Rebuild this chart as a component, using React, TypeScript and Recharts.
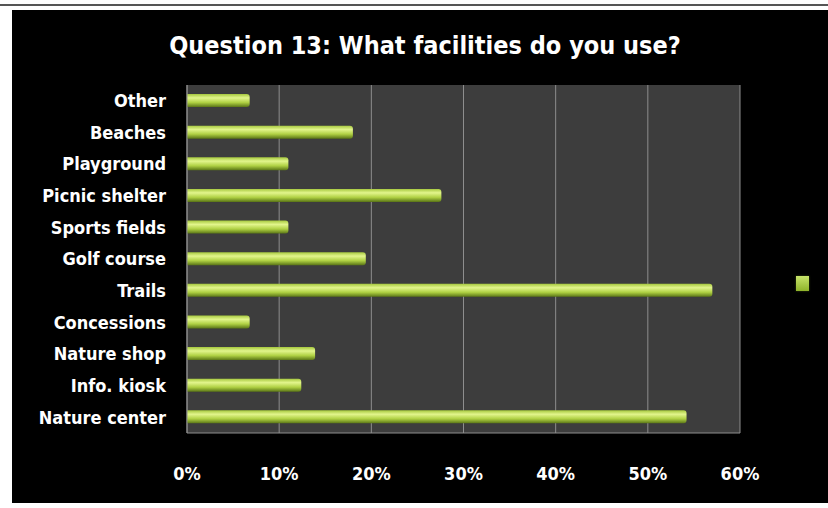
import * as React from "react";
import { Bar, BarChart, CartesianGrid, Legend, XAxis, YAxis } from "recharts";

const FACILITIES = [
  "Other",
  "Beaches",
  "Playground",
  "Picnic shelter",
  "Sports fields",
  "Golf course",
  "Trails",
  "Concessions",
  "Nature shop",
  "Info. kiosk",
  "Nature center",
];
const SHARE = [6.8, 18.0, 11.0, 27.6, 11.0, 19.4, 57.0, 6.8, 13.9, 12.4, 54.2];
const X_TICKS = [0, 10, 20, 30, 40, 50, 60];

const data = FACILITIES.map((name, i) => ({ name, share: SHARE[i] }));

const LABEL_FONT = "'DejaVu Sans Condensed', 'DejaVu Sans', sans-serif";

// Legend in the original has an empty series name, so only the swatch shows.
function LegendSwatch() {
  return (
    <div
      style={{
        width: 13,
        height: 15,
        background: "linear-gradient(#c7e36a, #8fb32a)",
        boxShadow: "0 0 2px #3a4a10",
      }}
    />
  );
}

export default function App() {
  return (
    <div
      style={{
        position: "absolute",
        left: 0,
        top: 0,
        width: 828,
        height: 508,
        background: "#ffffff",
        overflow: "hidden",
      }}
    >
      <div style={{ position: "absolute", left: 0, top: 4, width: 828, height: 2, background: "#555" }} />
      <div
        style={{
          position: "absolute",
          left: 12,
          top: 10,
          width: 816,
          height: 493,
          background: "#000000",
        }}
      >
        <div
          style={{
            position: "absolute",
            left: 0,
            top: 21,
            width: 826,
            textAlign: "center",
            color: "#ffffff",
            fontFamily: LABEL_FONT,
            fontWeight: "bold",
            fontSize: 25,
          }}
        >
          Question 13: What facilities do you use?
        </div>
        <BarChart
          width={816}
          height={493}
          data={data}
          layout="vertical"
          margin={{ top: 75, right: 75, bottom: 30, left: 15 }}
          barCategoryGap={9}
        >
          <defs>
            <linearGradient id="barFill" x1="0" y1="0" x2="0" y2="1">
              <stop offset="0%" stopColor="#a6c83e" />
              <stop offset="30%" stopColor="#e2f58c" />
              <stop offset="65%" stopColor="#b0d144" />
              <stop offset="100%" stopColor="#5a7516" />
            </linearGradient>
          </defs>
          <CartesianGrid
            horizontal={false}
            stroke="#8e8e8e"
            fill="#3d3d3d"
            fillOpacity={1}
          />
          <XAxis
            type="number"
            domain={[0, 60]}
            ticks={X_TICKS}
            tickFormatter={(v: number) => `${v}%`}
            axisLine={{ stroke: "#8e8e8e" }}
            tickLine={false}
            tickMargin={28}
            height={40}
            tick={{ fill: "#ffffff", fontSize: 18, fontWeight: "bold", fontFamily: LABEL_FONT }}
          />
          <YAxis
            type="category"
            dataKey="name"
            width={160}
            axisLine={{ stroke: "#8e8e8e" }}
            tickLine={false}
            tickMargin={15}
            interval={0}
            tick={{ fill: "#ffffff", fontSize: 18, fontWeight: "bold", fontFamily: LABEL_FONT }}
          />
          <Legend
            layout="horizontal"
            verticalAlign="middle"
            align="right"
            content={<LegendSwatch />}
            wrapperStyle={{ left: 784, top: 266, width: 13 }}
          />
          <Bar
            dataKey="share"
            name=""
            fill="url(#barFill)"
            barSize={13}
            radius={[0, 3, 3, 0]}
            isAnimationActive={false}
          />
        </BarChart>
      </div>
    </div>
  );
}
